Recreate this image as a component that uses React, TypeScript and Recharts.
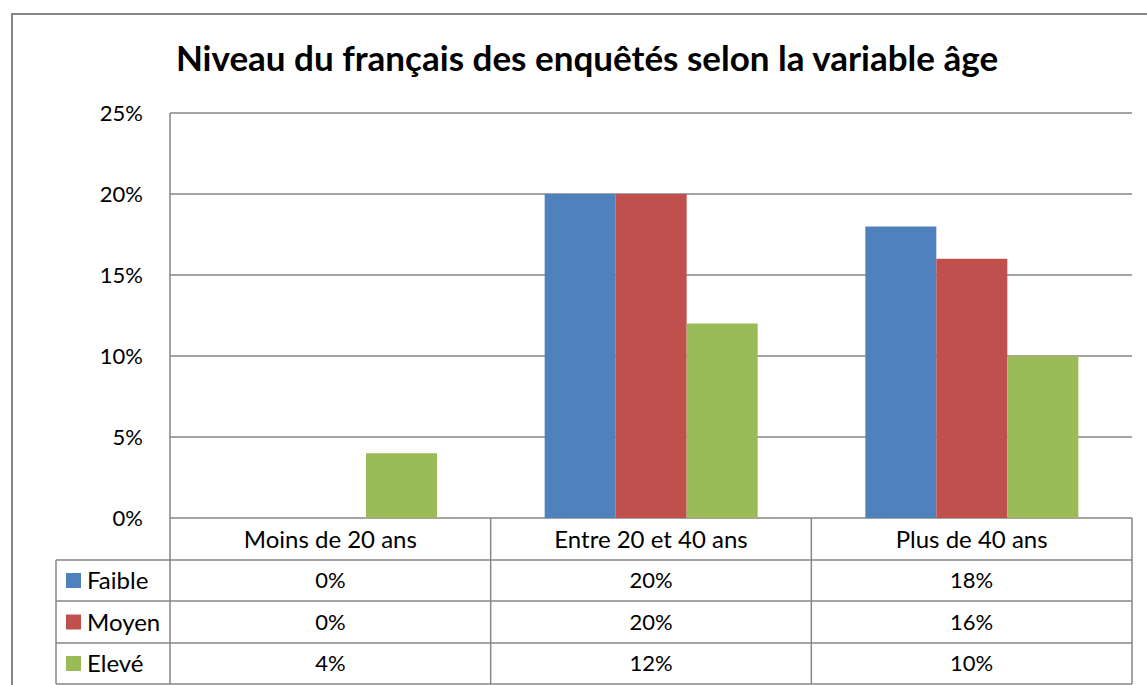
import { BarChart, Bar, XAxis, YAxis, CartesianGrid } from "recharts";

const categories = ["Moins de 20 ans", "Entre 20 et 40 ans", "Plus de 40 ans"];
const faible = [0, 0.2, 0.18];
const moyen = [0, 0.2, 0.16];
const eleve = [0.04, 0.12, 0.1];
const yTicks = [0, 0.05, 0.1, 0.15, 0.2, 0.25];
const seriesNames = ["Faible", "Moyen", "Elevé"];
const seriesKeys = ["faible", "moyen", "eleve"];
const seriesColors = ["#4F81BD", "#C0504D", "#9BBB59"];
const title = "Niveau du français des enquêtés selon la variable âge";

const data = categories.map((category, i) => ({
  category,
  faible: faible[i],
  moyen: moyen[i],
  eleve: eleve[i],
}));
const seriesValues = [faible, moyen, eleve];

const W = 1147;
const H = 685;
const FONT = "Lato, 'Open Sans', sans-serif";
const LINE = "#868686";
const WORD_SIZE = 24;
const NUM_SIZE = 22;

// plot area in page pixels
const plotLeft = 170;
const plotRight = 1132;
const plotTop = 113;
const plotBottom = 518;

// data table under the axis
const tableLeft = 56;
const rowEdges = [518, 560, 601, 643, 684];

const pct = (v: number) => `${Math.round(v * 100)}%`;

const DataTable = () => {
  const colW = (plotRight - plotLeft) / categories.length;
  const colEdges = categories.map((_, i) => plotLeft + i * colW).concat(plotRight);
  return (
    <svg
      width={W}
      height={H}
      style={{ position: "absolute", left: 0, top: 0, pointerEvents: "none" }}
    >
      {rowEdges.slice(1).map((y) => (
        <line key={y} x1={tableLeft} x2={plotRight} y1={y} y2={y} stroke={LINE} strokeWidth={1.5} />
      ))}
      <line x1={tableLeft} x2={tableLeft} y1={rowEdges[1]} y2={rowEdges[4]} stroke={LINE} strokeWidth={1.5} />
      {colEdges.map((x) => (
        <line key={x} x1={x} x2={x} y1={rowEdges[0]} y2={rowEdges[4]} stroke={LINE} strokeWidth={1.5} />
      ))}
      {categories.map((c, i) => (
        <text
          key={c}
          x={plotLeft + colW * (i + 0.5)}
          y={(rowEdges[0] + rowEdges[1]) / 2}
          dy="0.36em"
          textAnchor="middle"
          fontSize={WORD_SIZE}
          fontFamily={FONT}
          fill="#000"
        >
          {c}
        </text>
      ))}
      {seriesNames.map((name, r) => {
        const cy = (rowEdges[r + 1] + rowEdges[r + 2]) / 2;
        return (
          <g key={name}>
            <rect x={66} y={cy - 7.5} width={15} height={15} fill={seriesColors[r]} />
            <text x={87} y={cy} dy="0.36em" fontSize={WORD_SIZE} fontFamily={FONT} fill="#000">
              {name}
            </text>
            {seriesValues[r].map((v, i) => (
              <text
                key={i}
                x={plotLeft + colW * (i + 0.5)}
                y={cy}
                dy="0.36em"
                textAnchor="middle"
                fontSize={NUM_SIZE}
                fontFamily={FONT}
                fill="#000"
              >
                {pct(v)}
              </text>
            ))}
          </g>
        );
      })}
    </svg>
  );
};

export default function App() {
  return (
    <div
      style={{
        position: "fixed",
        left: 0,
        top: 0,
        width: W,
        height: H,
        overflow: "hidden",
        background: "#fff",
        fontFamily: FONT,
      }}
    >
      <div
        style={{
          position: "absolute",
          left: 11,
          top: 13,
          width: 1300,
          height: 900,
          border: `2px solid ${LINE}`,
        }}
      />
      <div
        style={{
          position: "absolute",
          left: 0,
          top: 36,
          width: 1174,
          textAlign: "center",
          fontSize: 35,
          fontWeight: 700,
          color: "#000",
          whiteSpace: "nowrap",
        }}
      >
        {title}
      </div>
      <div style={{ position: "absolute", left: 0, top: 0 }}>
        <BarChart
          width={W}
          height={H}
          data={data}
          barSize={71}
          barGap={0}
          margin={{ top: plotTop, right: W - plotRight, bottom: H - plotBottom, left: plotLeft - 60 }}
        >
          <CartesianGrid vertical={false} stroke={LINE} strokeWidth={1.5} />
          <XAxis dataKey="category" hide />
          <YAxis
            width={60}
            domain={[0, 0.25]}
            ticks={yTicks}
            tickFormatter={pct}
            axisLine={{ stroke: LINE, strokeWidth: 1.5 }}
            tickLine={false}
            tickSize={0}
            tickMargin={27}
            tick={{ fontSize: NUM_SIZE, fill: "#000", fontFamily: FONT }}
          />
          {seriesKeys.map((k, i) => (
            <Bar key={k} dataKey={k} name={seriesNames[i]} fill={seriesColors[i]} isAnimationActive={false} />
          ))}
        </BarChart>
      </div>
      <DataTable />
    </div>
  );
}
